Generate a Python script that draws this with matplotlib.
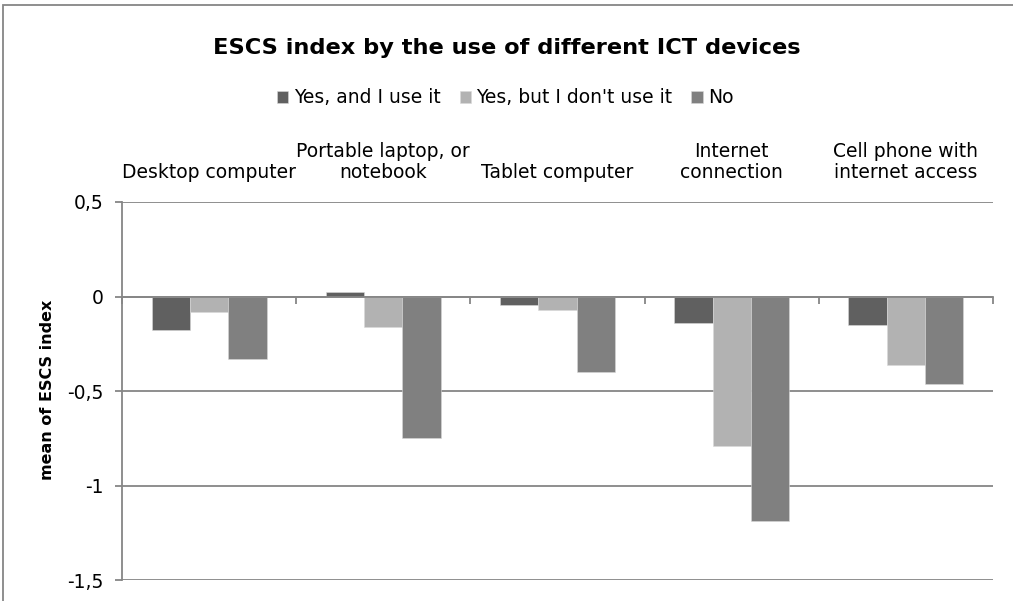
import matplotlib
matplotlib.use("Agg")
import matplotlib.pyplot as plt
import numpy as np
from matplotlib.ticker import FuncFormatter, MultipleLocator, FixedLocator
from matplotlib.patches import Rectangle

categories = ["Desktop computer", "Portable laptop, or\nnotebook", "Tablet computer",
              "Internet\nconnection", "Cell phone with\ninternet access"]
series_names = ["Yes, and I use it", "Yes, but I don't use it", "No"]
yes_use = [-0.175, 0.025, -0.045, -0.14, -0.15]
yes_not_use = [-0.08, -0.16, -0.07, -0.79, -0.365]
no_values = [-0.33, -0.75, -0.40, -1.19, -0.465]
colors = ["#606060", "#b2b2b2", "#808080"]

plt.rcParams['font.family'] = ['DejaVu Sans']

fig = plt.figure(figsize=(10.13, 6.01), dpi=100)
ax = fig.add_axes([0.1204, 0.0349, 0.8599, 0.629])

x = np.arange(len(categories))
width = 0.22
for i, (vals, c, name) in enumerate(zip([yes_use, yes_not_use, no_values], colors, series_names)):
    ax.bar(x + (i - 1) * width, vals, width, color=c, label=name,
           edgecolor="#d8d8d8", linewidth=0.4, zorder=3)

ax.set_xlim(-0.5, len(categories) - 0.5)
ax.set_ylim(-1.5, 0.5)
ax.yaxis.set_major_locator(MultipleLocator(0.5))
ax.yaxis.set_major_formatter(FuncFormatter(lambda v, p: ("%g" % round(v, 2)).replace(".", ",")))
grid_c = "#868686"
ax.grid(axis="y", color=grid_c, linewidth=1.3, zorder=1)
ax.set_axisbelow(True)

for s in ["top", "right"]:
    ax.spines[s].set_visible(False)
ax.spines["left"].set_color(grid_c)
ax.spines["left"].set_linewidth(1.3)
ax.spines["bottom"].set_position(("data", 0))
ax.spines["bottom"].set_color(grid_c)
ax.spines["bottom"].set_linewidth(1.3)
ax.spines["bottom"].set_zorder(4)

ax.set_xticks(x)
ax.set_xticklabels(categories, fontsize=13.5, color="#000000", linespacing=1.15)
ax.xaxis.set_minor_locator(FixedLocator(np.arange(len(categories) + 1) - 0.5))
ax.tick_params(axis="x", which="major", bottom=False, top=False, labelbottom=False,
               labeltop=True, pad=11)
ax.tick_params(axis="x", which="minor", bottom=True, top=False, direction="out",
               length=5, width=1.3, color=grid_c)
ax.tick_params(axis="y", length=5, width=1.3, color=grid_c, labelsize=13.5, pad=8.5)

ax.set_ylabel("mean of ESCS index", fontsize=11.5, fontweight="bold")
ax.yaxis.set_label_coords(-0.077, 0.503)

fig.text(0.5, 0.92, "ESCS index by the use of different ICT devices", ha="center",
         va="center", fontsize=16.2, fontweight="bold")

fig.legend(loc="center", bbox_to_anchor=(0.499, 0.837), ncol=3, frameon=False,
           fontsize=13.5, handlelength=0.6, handleheight=0.6, handletextpad=0.3,
           columnspacing=1.0)

fig.patches.append(Rectangle((3 / 1013, -0.1), 1.2, 1.1 - 5 / 601, transform=fig.transFigure,
                             fill=False, edgecolor=grid_c, linewidth=1.3))

fig.savefig("out.png", dpi=100)
